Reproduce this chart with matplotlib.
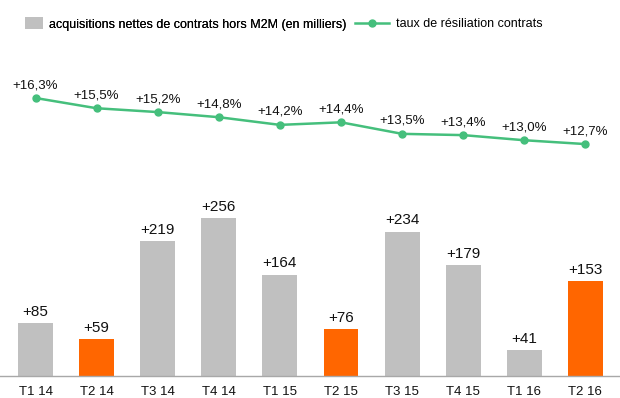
import matplotlib
matplotlib.use('Agg')
import matplotlib.pyplot as plt
from matplotlib.patches import Patch
from matplotlib.lines import Line2D

plt.rcParams['font.family'] = ['Liberation Sans', 'DejaVu Sans']

# Donnees
trimestres = ['T1 14', 'T2 14', 'T3 14', 'T4 14', 'T1 15', 'T2 15', 'T3 15', 'T4 15', 'T1 16', 'T2 16']
acquisitions = [85, 59, 219, 256, 164, 76, 234, 179, 41, 153]
resiliation = [16.3, 15.5, 15.2, 14.8, 14.2, 14.4, 13.5, 13.4, 13.0, 12.7]
surligne = [False, True, False, False, False, True, False, False, False, True]

gris = '#c0c0c0'
orange = '#ff6600'
vert = '#45bf7c'

fig = plt.figure(figsize=(6.2, 3.98), dpi=100)
W, H = 620.0, 398.0

x = list(range(len(trimestres)))
xlim = (-35.5 / 61.1, (620 - 35.5) / 61.1)

# Barres (en bas)
ax_b = fig.add_axes([0, (H - 375.5) / H, 1, 175.5 / H])
couleurs = [orange if s else gris for s in surligne]
barres = ax_b.bar(x, acquisitions, width=0.57, color=couleurs)
for b, v in zip(barres, acquisitions):
    ax_b.annotate('+{}'.format(v), (b.get_x() + b.get_width() / 2, v),
                  xytext=(0, 3), textcoords='offset points',
                  ha='center', va='bottom', fontsize=11, color='#111111')
ax_b.set_xlim(*xlim)
ax_b.set_ylim(0, 175.5 / 0.615)
ax_b.set_xticks(x)
ax_b.set_xticklabels(trimestres, fontsize=9.5, color='#111111')
ax_b.tick_params(axis='x', length=0, pad=7.5)
ax_b.set_yticks([])
for s in ['top', 'left', 'right']:
    ax_b.spines[s].set_visible(False)
ax_b.spines['bottom'].set_color('#a8a8a8')
ax_b.spines['bottom'].set_linewidth(1.0)
ax_b.patch.set_alpha(0)

# Courbe (en haut)
ax_l = fig.add_axes([0, (H - 160) / H, 1, 90 / H])
ax_l.plot(x, resiliation, color=vert, linewidth=1.8, marker='o', markersize=5)
for xi, v in zip(x, resiliation):
    ax_l.annotate('+{:.1f}%'.format(v).replace('.', ','), (xi, v),
                  xytext=(0, 5), textcoords='offset points',
                  ha='center', va='bottom', fontsize=9.5, color='#111111')
ax_l.set_xlim(*xlim)
ax_l.set_ylim(16.3 - 62 / 12.8, 16.3 + 28 / 12.8)
ax_l.axis('off')

# Legende
leg1 = fig.legend(handles=[Patch(facecolor=gris, edgecolor='none')],
                  labels=['acquisitions nettes de contrats hors M2M (en milliers)'],
                  loc='center left', bbox_to_anchor=(25 / W, 1 - 24 / H),
                  frameon=False, fontsize=9, handlelength=1.45, handleheight=1.05,
                  handletextpad=0.5, borderpad=0, borderaxespad=0)
leg2 = fig.legend(handles=[Line2D([], [], color=vert, linewidth=1.8, marker='o', markersize=5)],
                  labels=['taux de résiliation contrats'],
                  loc='center left', bbox_to_anchor=(355 / W, 1 - 24 / H),
                  frameon=False, fontsize=9, handlelength=2.7,
                  handletextpad=0.55, borderpad=0, borderaxespad=0)
fig.add_artist(leg1)

plt.savefig('out.png', dpi=100)
